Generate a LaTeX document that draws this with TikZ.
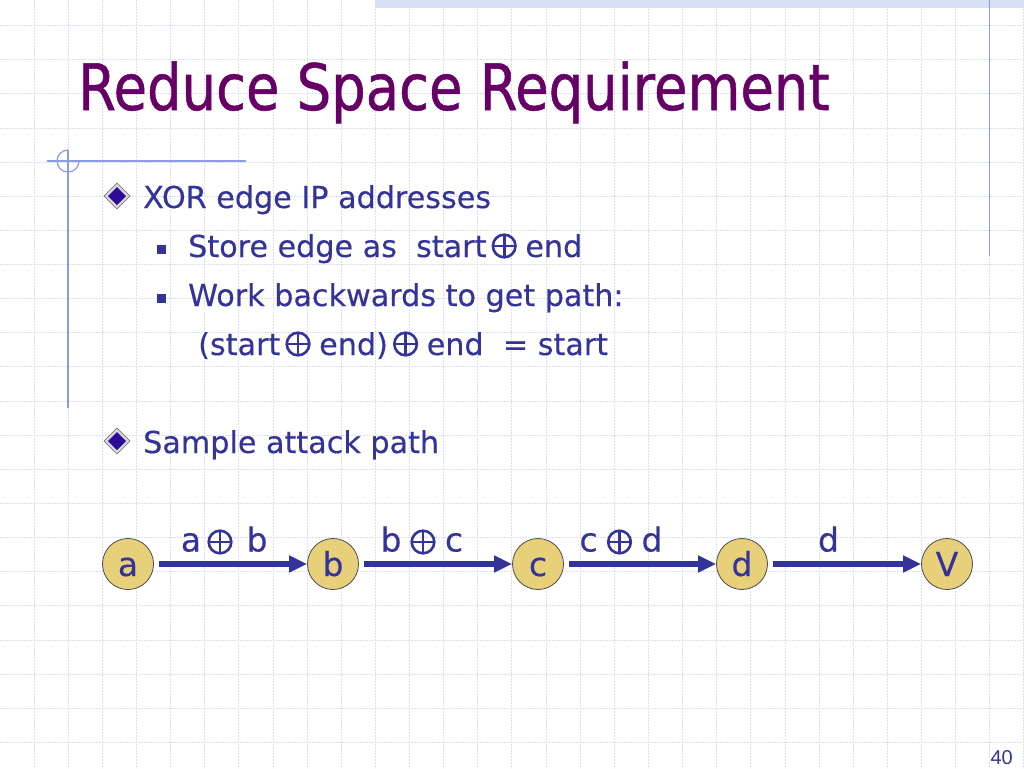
\documentclass[tikz,border=0pt]{standalone}
\usepackage{fontspec}
\setmainfont{DejaVu Sans}
\newfontfamily\myTitleFam{DejaVu Sans}[FakeStretch=0.85,FakeBold=0.8]
\newfontfamily\myBodyFam{DejaVu Sans}[FakeBold=0.3]
\newfontfamily\myNumFam{Liberation Sans}
\usetikzlibrary{arrows.meta}
\definecolor{titlecol}{HTML}{660066}
\definecolor{textcol}{HTML}{333399}
\definecolor{gridcol}{HTML}{DADFF2}
\definecolor{accent}{HTML}{8C9CE0}
\definecolor{nodefill}{HTML}{E8CF7A}
\definecolor{bandcol}{HTML}{D8E0F6}
\definecolor{bulletcol}{HTML}{2E0A99}
\newcommand\myBodyFont{\myBodyFam\fontsize{30.2}{36}\selectfont}
\newcommand\myLblFont{\myBodyFam\fontsize{33}{40}\selectfont}
\tikzset{
  gridline/.style={draw=gridcol, line width=0.8pt, dash pattern=on 2pt off 1pt},
  accentline/.style={draw=accent, line width=1.2pt},
  txt/.style={font=\myBodyFont, text=textcol, inner sep=0pt, anchor=base west},
  vertex/.style={circle, minimum size=51pt, inner sep=0pt, fill=nodefill, draw=black!70, line width=0.8pt,
                 font=\myLblFont, text=textcol, text height=24pt, text depth=0pt},
  edgearrow/.style={draw=textcol, line width=5.5pt, shorten <=5.5pt,
                    -{Triangle[length=18pt,width=16pt]}},
  elabel/.style={font=\myLblFont, text=textcol, inner sep=0pt, anchor=base},
  xorsym/.style={draw=textcol, line width=2.6pt},
  sqbullet/.style={fill=textcol},
}
% XOR sign after a text node: #1 previous node, #2 name of the point where the next text starts
\newcommand\myOplus[2]{%
  \path (#1.base east) ++(17.5,-11) coordinate (#2c) ++(21,11) coordinate (#2);
  \myOplusAt{#2c}}
% XOR sign centred on a coordinate
\newcommand\myOplusAt[1]{%
  \draw[xorsym] (#1) circle[radius=11.3];
  \draw[xorsym] ([xshift=-11.3pt]#1) -- ([xshift=11.3pt]#1);
  \draw[xorsym] ([yshift=-11.3pt]#1) -- ([yshift=11.3pt]#1);}
\newcommand\myDiamond[2]{%
  \fill[draw=black!60, line width=0.6pt, fill=black!15!white] (#1,#2-13) -- (#1+13,#2) -- (#1,#2+13) -- (#1-13,#2) -- cycle;
  \fill[bulletcol] (#1,#2-9) -- (#1+9,#2) -- (#1,#2+9) -- (#1-9,#2) -- cycle;}
\begin{document}
\begin{tikzpicture}[x=1pt,y=-1pt]
\useasboundingbox (0,0) rectangle (1024,768);
\fill[white] (0,0) rectangle (1024,768);
% grid
\foreach \i in {0,...,29} \draw[gridline] ({34+34.133*\i},0) -- ({34+34.133*\i},768);
\foreach \j in {0,...,21} \draw[gridline] (0,{25.5+34.133*\j}) -- (1024,{25.5+34.133*\j});
% decorations
\fill[bandcol] (375,0) rectangle (1024,8);
\draw[accentline] (989.5,0) -- (989.5,256);
\draw[accentline] (47,161) -- (246,161);
\draw[accentline] (68,150) -- (68,408);
\draw[accentline] (79,161) arc[start angle=0, end angle=270, radius=11];
% title
\node[font={\myTitleFam\fontsize{64}{70}\selectfont}, text=titlecol, inner sep=0pt, anchor=base west] (title) at (78,110) {Reduce Space Requirement};
% bullets
\myDiamond{117}{196}
\node[txt] (l1) at (143,208) {XOR edge IP addresses};
\fill[sqbullet] (157,245) rectangle (166,254);
\node[txt] (l2a) at (188,257) {Store edge as\ \ start};
\myOplus{l2a}{x2}
\node[txt] (l2b) at (x2) {end};
\fill[sqbullet] (157,294) rectangle (166,303);
\node[txt] (l3) at (188,306) {Work backwards to get path:};
\node[txt] (l4a) at (198,355) {(start};
\myOplus{l4a}{x4}
\node[txt] (l4b) at (x4) {end)};
\myOplus{l4b}{x5}
\node[txt] (l4c) at (x5) {end\ \ = start};
\myDiamond{117}{441}
\node[txt] (l5) at (143,453) {Sample attack path};
% graph
\node[vertex] (a) at (128,564) {a};
\node[vertex] (b) at (333,564) {b};
\node[vertex] (c) at (538,564) {c};
\node[vertex] (d) at (742,564) {d};
\node[vertex] (v) at (947,564) {V};
\draw[edgearrow] (a) -- (b) coordinate[midway, xshift=-10.5pt, yshift=22pt] (xab);
\draw[edgearrow] (b) -- (c) coordinate[midway, xshift=-12.5pt, yshift=22pt] (xbc);
\draw[edgearrow] (c) -- (d) coordinate[midway, xshift=-20.5pt, yshift=22pt] (xcd);
\draw[edgearrow] (d) -- (v) coordinate[midway, xshift=-16pt, yshift=12.5pt] (xdv);
\myOplusAt{xab}
\node[elabel] (lab1) at ([xshift=-29pt, yshift=-9.5pt]xab) {a};
\node[elabel] (lab2) at ([xshift=37pt, yshift=-9.5pt]xab) {b};
\myOplusAt{xbc}
\node[elabel] (lbc1) at ([xshift=-32pt, yshift=-9.5pt]xbc) {b};
\node[elabel] (lbc2) at ([xshift=31pt, yshift=-9.5pt]xbc) {c};
\myOplusAt{xcd}
\node[elabel] (lcd1) at ([xshift=-31pt, yshift=-9.5pt]xcd) {c};
\node[elabel] (lcd2) at ([xshift=32.5pt, yshift=-9.5pt]xcd) {d};
\node[elabel] (ldv) at (xdv) {d};
% page number
\node[font={\myNumFam\fontsize{20}{24}\selectfont}, text=textcol, inner sep=0pt, anchor=base east] (pg) at (1013,764) {40};
\end{tikzpicture}
\end{document}
